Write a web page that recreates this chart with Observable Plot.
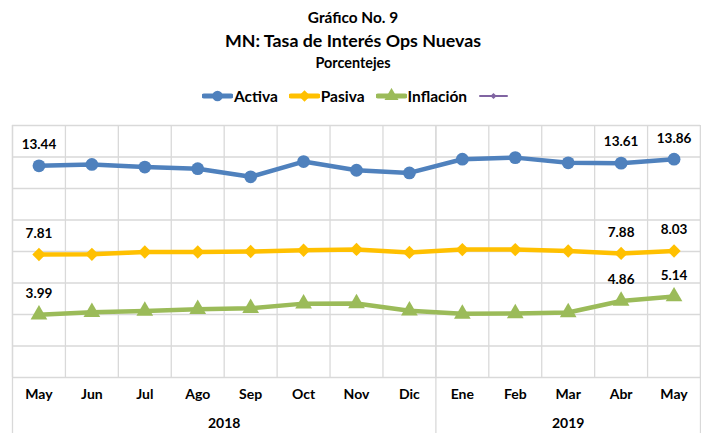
<!DOCTYPE html>
<html>
<head>
<meta charset="utf-8">
<script src="https://cdn.jsdelivr.net/npm/d3@7"></script>
<script src="https://cdn.jsdelivr.net/npm/@observablehq/plot@0.6"></script>
<style>
  body { margin: 0; background: #fff; font-family: Lato, "Open Sans", sans-serif; }
  #wrap { position: relative; width: 701px; height: 433px; overflow: hidden; }
  .t { position: absolute; left: 0; width: 706px; text-align: center; font-weight: bold; color: #000; white-space: nowrap; }
  #legend { position: absolute; left: 0; width: 712px; top: 86px; height: 20px; display: flex; justify-content: center; align-items: center; gap: 11px; font-weight: bold; font-size: 15.5px; }
  .item { display: flex; align-items: center; }
  .item svg { display: block; margin-right: 1px; }
  #chart { position: absolute; left: 0; top: 112px; }
</style>
</head>
<body>
<div id="wrap">
  <div class="t" style="top:6px; font-size:15.4px; line-height:22px;">Gráfico No. 9</div>
  <div class="t" style="top:28px; font-size:17.8px; line-height:24px;">MN: Tasa de Interés Ops Nuevas</div>
  <div class="t" style="top:52px; font-size:14.4px; line-height:22px;">Porcentejes</div>
  <div id="legend"></div>
  <div id="chart"></div>
</div>
<script>
const months = ["May","Jun","Jul","Ago","Sep","Oct","Nov","Dic","Ene","Feb","Mar","Abr","May"];
const yearOf = ["2018","2018","2018","2018","2018","2018","2018","2018","2019","2019","2019","2019","2019"];
const activa = [13.44, 13.53, 13.36, 13.26, 12.74, 13.71, 13.16, 12.99, 13.86, 13.96, 13.63, 13.61, 13.86];
const pasiva = [7.81, 7.82, 7.97, 7.97, 8.00, 8.08, 8.13, 7.94, 8.12, 8.12, 8.03, 7.88, 8.03];
const inflacion = [3.99, 4.15, 4.23, 4.34, 4.40, 4.69, 4.70, 4.24, 4.04, 4.07, 4.13, 4.86, 5.14];
const yTicks = [0, 2, 4, 6, 8, 10, 12, 14, 16];
const labelIdx = [0, 11, 12];

const seriesDefs = [
  {name: "Activa", values: activa, color: "#4F81BD", symbol: "circle", r: 6.4},
  {name: "Pasiva", values: pasiva, color: "#FFC000", symbol: "diamond2", r: 6.0},
  {name: "Inflación", values: inflacion, color: "#9BBB59", symbol: "triangle", r: 6.2}
];

// legend
const legend = document.getElementById("legend");
const legendItems = seriesDefs.concat([{name: "", color: "#8064A2", symbol: "diamond2", thin: true}]);
for (const s of legendItems) {
  const item = document.createElement("div");
  item.className = "item";
  const sw = s.thin ? 2 : 5;
  const type = s.symbol === "circle" ? d3.symbolCircle : s.symbol === "triangle" ? d3.symbolTriangle : d3.symbolDiamond2;
  const sym = d3.symbol(type, Math.PI * (s.thin ? 2.8 : 5.2) ** 2);
  item.innerHTML = `<svg width="31" height="16"><line x1="2" x2="29" y1="8" y2="8" stroke="${s.color}" stroke-width="${sw}" stroke-linecap="round"/><path transform="translate(15.5,8)" d="${sym()}" fill="${s.color}"/></svg><span>${s.name}</span>`;
  legend.appendChild(item);
}

const n = months.length;
const boundaries = d3.range(n + 1).map(i => i - 0.5);
const yearStart = boundaries.filter((b, k) => k === 0 || k === n || yearOf[k] !== yearOf[k - 1]);
const years = Array.from(d3.group(months.map((m, i) => ({i, y: yearOf[i]})), d => d.y), ([y, arr]) => ({year: y, x: d3.mean(arr, d => d.i)}));

const marks = [
  Plot.ruleY(yTicks, {stroke: "#d9d9d9", strokeWidth: 1.3}),
  Plot.ruleX(boundaries, {stroke: "#d9d9d9", strokeWidth: 1.3}),
  Plot.ruleX(yearStart, {stroke: "#d9d9d9", strokeWidth: 1.3, insetBottom: -56})
];
for (const s of seriesDefs) {
  const data = s.values.map((v, i) => ({i, v}));
  marks.push(Plot.line(data, {x: "i", y: "v", stroke: s.color, strokeWidth: 4.5, strokeLinejoin: "round"}));
  marks.push(Plot.dot(data, {x: "i", y: "v", fill: s.color, symbol: s.symbol, r: s.r, stroke: null}));
  marks.push(Plot.text(data.filter(d => labelIdx.includes(d.i)), {x: "i", y: "v", text: d => d.v.toFixed(2), dy: -21, fontWeight: "bold", fontSize: 13.5, fill: "#000"}));
}
marks.push(Plot.text(months, {x: (d, i) => i, text: d => d, frameAnchor: "bottom", dy: 21, fontWeight: "bold", fontSize: 14, fill: "#000"}));
marks.push(Plot.text(years, {x: "x", text: "year", frameAnchor: "bottom", dy: 50, fontWeight: "bold", fontSize: 14, fill: "#000"}));

const chart = Plot.plot({
  width: 701,
  height: 321,
  marginTop: 13,
  marginBottom: 56,
  marginLeft: 12,
  marginRight: 1,
  x: {type: "linear", domain: [-0.5, n - 0.5], axis: null},
  y: {domain: [0, 16], axis: null},
  style: {fontFamily: "Lato, 'Open Sans', sans-serif", background: "white", overflow: "visible"},
  marks
});
document.getElementById("chart").appendChild(chart);
</script>
</body>
</html>
